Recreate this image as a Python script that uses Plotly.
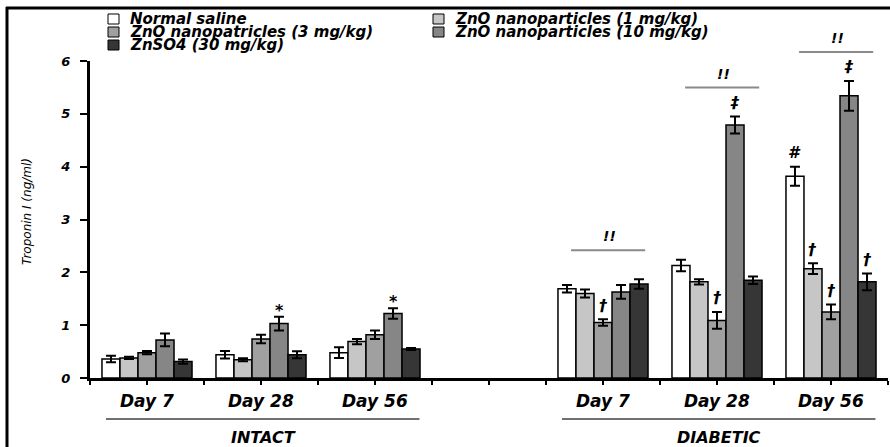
import plotly.graph_objects as go

# ---------------- data ----------------
groups = ["Day 7", "Day 28", "Day 56", "Day 7", "Day 28", "Day 56"]
positions = [0, 1, 2, 4, 5, 6]
conditions = ["INTACT", "DIABETIC"]
condition_members = [[0, 1, 2], [3, 4, 5]]  # indices into groups

series_names = [
    "Normal saline",
    "ZnO nanoparticles (1 mg/kg)",
    "ZnO nanopatricles (3 mg/kg)",
    "ZnO nanoparticles (10 mg/kg)",
    "ZnSO4 (30 mg/kg)",
]
saline = [0.36, 0.44, 0.48, 1.69, 2.13, 3.82]
saline_err = [0.06, 0.07, 0.10, 0.07, 0.11, 0.18]
zno1 = [0.38, 0.345, 0.69, 1.60, 1.82, 2.07]
zno1_err = [0.02, 0.03, 0.05, 0.075, 0.05, 0.10]
zno3 = [0.48, 0.74, 0.82, 1.05, 1.09, 1.25]
zno3_err = [0.03, 0.08, 0.08, 0.06, 0.16, 0.14]
zno10 = [0.72, 1.03, 1.22, 1.63, 4.79, 5.34]
zno10_err = [0.12, 0.13, 0.10, 0.13, 0.16, 0.28]
znso4 = [0.31, 0.44, 0.55, 1.78, 1.85, 1.82]
znso4_err = [0.04, 0.065, 0.02, 0.09, 0.07, 0.16]

values = [saline, zno1, zno3, zno10, znso4]
errors = [saline_err, zno1_err, zno3_err, zno10_err, znso4_err]
colors = ["#ffffff", "#c6c6c6", "#a0a0a0", "#868686", "#363636"]

# significance marks: (group index, series index, symbol)
marks = [
    (1, 3, "*"), (2, 3, "*"),
    (3, 2, "†"),
    (4, 2, "†"), (4, 3, "‡"),
    (5, 0, "#"), (5, 1, "†"), (5, 2, "†"), (5, 3, "‡"), (5, 4, "†"),
]
bracket_groups = [3, 4, 5]
bracket_symbol = "!!"

y_ticks = [0, 1, 2, 3, 4, 5, 6]
Y_MAX = 6.0

# ---------------- layout geometry ----------------
W, H = 890, 447
L, R, T, B = 90, 2, 61, 69
pw, ph = W - L - R, H - T - B
BARGAP = 0.21
n_series = len(values)
bar_w = (1 - BARGAP) / n_series


def px_x(px):
    return (px - L) / pw


def px_y(py):
    return (H - B - py) / ph


def data_to_paper_x(x):
    return (x + 0.5) / 7.0


def data_to_paper_y(y):
    return y / Y_MAX


FONT = "DejaVu Sans"
BI = dict(family=FONT, weight="bold", style="italic", color="black")

fig = go.Figure()
for k in range(n_series):
    fig.add_trace(go.Bar(
        x=positions, y=values[k], name=series_names[k],
        marker=dict(color=colors[k], line=dict(color="black", width=1.5)),
        error_y=dict(type="data", array=errors[k], color="black",
                     thickness=2, width=5),
        showlegend=False,
    ))

shapes = []
annotations = []

# significance symbols
for g, s, sym in marks:
    x = positions[g] + (s - (n_series - 1) / 2) * bar_w
    pad = 0.12 if sym == "*" else 0.27
    y = values[s][g] + errors[s][g] + pad
    annotations.append(dict(x=data_to_paper_x(x), y=data_to_paper_y(y),
                            xref="paper", yref="paper", text=sym,
                            xanchor="center", yanchor="middle",
                            showarrow=False, font=dict(size=16, **BI)))

# brackets with "!!"
for g in bracket_groups:
    top = max(values[s][g] + errors[s][g] for s in range(n_series))
    yl = top + 0.55
    xc = positions[g]
    shapes.append(dict(type="line", xref="paper", yref="paper",
                       x0=data_to_paper_x(xc - 0.28), x1=data_to_paper_x(xc + 0.37),
                       y0=data_to_paper_y(yl), y1=data_to_paper_y(yl),
                       line=dict(color="#8a8a8a", width=2)))
    annotations.append(dict(x=data_to_paper_x(xc + 0.06), y=data_to_paper_y(yl + 0.26),
                            xref="paper", yref="paper",
                            xanchor="center", yanchor="middle",
                            text=bracket_symbol, showarrow=False,
                            font=dict(size=14, **BI)))

# day labels
for i, g in enumerate(groups):
    annotations.append(dict(x=positions[i], y=px_y(401), xref="x", yref="paper",
                            xanchor="center", yanchor="middle",
                            text=g, showarrow=False, font=dict(size=17, **BI)))

# condition lines & labels
for c, members in zip(conditions, condition_members):
    x0 = positions[members[0]] - 0.36
    x1 = positions[members[-1]] + 0.39
    shapes.append(dict(type="line", xref="paper", yref="paper",
                       x0=data_to_paper_x(x0), x1=data_to_paper_x(x1),
                       y0=px_y(419), y1=px_y(419),
                       line=dict(color="#404040", width=1.5)))
    annotations.append(dict(x=(positions[members[0]] + positions[members[-1]]) / 2 + 0.02,
                            y=px_y(437), xref="x", yref="paper", text=c,
                            xanchor="center", yanchor="middle",
                            showarrow=False, font=dict(size=16, **BI)))

# y-axis title
annotations.append(dict(x=px_x(27), y=px_y(212), xref="paper", yref="paper",
                        xanchor="center", yanchor="middle",
                        text="Troponin I (ng/ml)", textangle=-90, showarrow=False,
                        font=dict(family=FONT, size=12, style="italic", color="black")))

# manual legend (two columns)
legend_slots = [(108, 19), (433, 19), (108, 32), (433, 32), (108, 45)]
for k, (bx, by) in enumerate(legend_slots):
    shapes.append(dict(type="rect", xref="paper", yref="paper",
                       x0=px_x(bx), x1=px_x(bx + 11), y0=px_y(by - 5), y1=px_y(by + 5),
                       fillcolor=colors[k], line=dict(color="black", width=1)))
    annotations.append(dict(x=px_x(bx + 20), y=px_y(by), xref="paper", yref="paper",
                            xanchor="left", yanchor="middle", text=series_names[k],
                            showarrow=False, font=dict(size=15, **BI)))

# outer frame (left and top edges)
shapes.append(dict(type="line", xref="paper", yref="paper",
                   x0=px_x(7), x1=px_x(7), y0=px_y(7), y1=px_y(450),
                   line=dict(color="black", width=3)))
shapes.append(dict(type="line", xref="paper", yref="paper",
                   x0=px_x(6), x1=px_x(895), y0=px_y(8), y1=px_y(8),
                   line=dict(color="black", width=3)))

fig.update_layout(
    width=W, height=H,
    margin=dict(l=L, r=R, t=T, b=B),
    paper_bgcolor="white", plot_bgcolor="white",
    barmode="group", bargap=BARGAP, bargroupgap=0,
    showlegend=False,
    shapes=shapes, annotations=annotations,
    xaxis=dict(range=[-0.5, 6.5], showgrid=False, zeroline=False,
               showline=True, linecolor="black", linewidth=2.5,
               tickmode="linear", tick0=-0.5, dtick=0.5,
               ticks="outside", ticklen=4, tickwidth=1.5, tickcolor="black",
               showticklabels=False),
    yaxis=dict(range=[0, Y_MAX], showgrid=False, zeroline=False,
               showline=True, linecolor="black", linewidth=3,
               tickmode="array", tickvals=y_ticks,
               ticks="outside", ticklen=7, tickwidth=2, tickcolor="black",
               ticklabelstandoff=7,
               tickfont=dict(size=13, **BI)),
)

fig.write_html(
    "out.html",
    config={"displayModeBar": False},
    post_script="document.body.style.margin='0';document.body.style.padding='0';"
                "document.body.style.overflow='hidden';",
)
